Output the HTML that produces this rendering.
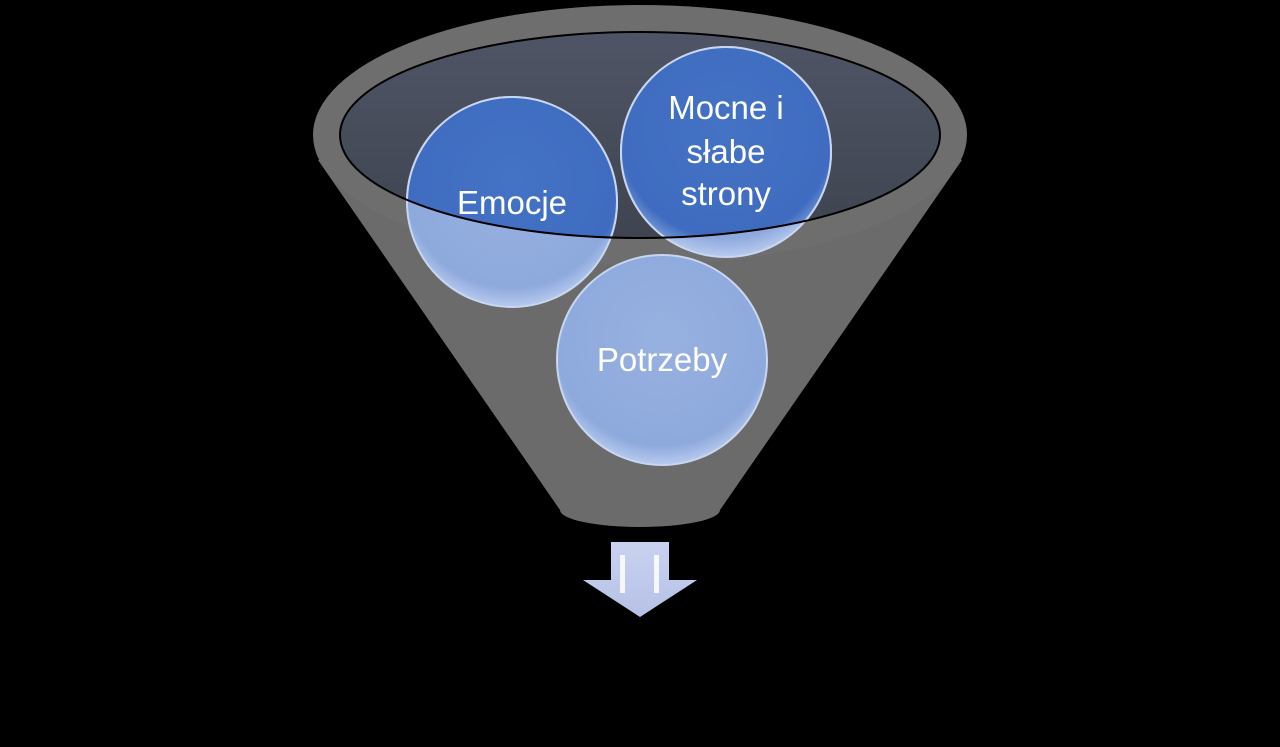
<!DOCTYPE html>
<html><head><meta charset="utf-8"><style>
html,body{margin:0;padding:0;background:#000;}
svg{display:block}
text{font-family:"Liberation Sans","DejaVu Sans",sans-serif;fill:#fff;font-size:33px}
</style></head><body>
<svg width="1280" height="747" viewBox="0 0 1280 747">
<defs>
<linearGradient id="inner" x1="0" y1="0" x2="0" y2="1">
<stop offset="0" stop-color="#4f5566"/><stop offset="1" stop-color="#3f4450"/>
</linearGradient>
<radialGradient id="lightc" cx="0.5" cy="0.4" r="0.6">
<stop offset="0" stop-color="#97b1e0"/><stop offset="0.85" stop-color="#8ea9dc"/><stop offset="1" stop-color="#b8cbef"/>
</radialGradient>
<radialGradient id="darkc" cx="0.5" cy="0.4" r="0.6">
<stop offset="0" stop-color="#4472c4"/><stop offset="0.85" stop-color="#3f6cc0"/><stop offset="1" stop-color="#7e9ed8"/>
</radialGradient>
<clipPath id="ell"><ellipse cx="640" cy="135" rx="300" ry="103"/></clipPath>
<linearGradient id="arr" x1="0" y1="0" x2="0" y2="1">
<stop offset="0" stop-color="#c9d2ef"/><stop offset="1" stop-color="#b6c1e6"/>
</linearGradient>
</defs>
<path d="M318 160 L560 510 L720 510 L962 160 Z" fill="#6b6b6b"/>
<ellipse cx="640" cy="510" rx="80" ry="17" fill="#6b6b6b"/>
<ellipse cx="640" cy="135" rx="327" ry="130" fill="#6e6e6e"/>
<ellipse cx="640" cy="135" rx="300" ry="103" fill="url(#inner)"/>
<g stroke="#c8d6f0" stroke-width="2">
<circle cx="512" cy="202" r="105" fill="url(#lightc)"/>
<circle cx="726" cy="152" r="105" fill="url(#lightc)"/>
<circle cx="662" cy="360" r="105" fill="url(#lightc)"/>
</g>
<g clip-path="url(#ell)" stroke="#c8d6f0" stroke-width="2">
<circle cx="512" cy="202" r="105" fill="url(#darkc)"/>
<circle cx="726" cy="152" r="105" fill="url(#darkc)"/>
</g>
<ellipse cx="640" cy="135" rx="300" ry="103" fill="none" stroke="#000" stroke-width="2"/>
<text x="512" y="214" text-anchor="middle">Emocje</text>
<text x="726" y="119" text-anchor="middle">Mocne i</text>
<text x="726" y="163" text-anchor="middle">słabe</text>
<text x="726" y="205" text-anchor="middle">strony</text>
<text x="662" y="371" text-anchor="middle">Potrzeby</text>
<path d="M611 542 L669 542 L669 580 L697 580 L640 617 L583 580 L611 580 Z" fill="url(#arr)"/>
<rect x="620" y="555" width="5" height="38" fill="#fff" opacity="0.85"/>
<rect x="654" y="555" width="5" height="38" fill="#fff" opacity="0.85"/>
</svg>
</body></html>
